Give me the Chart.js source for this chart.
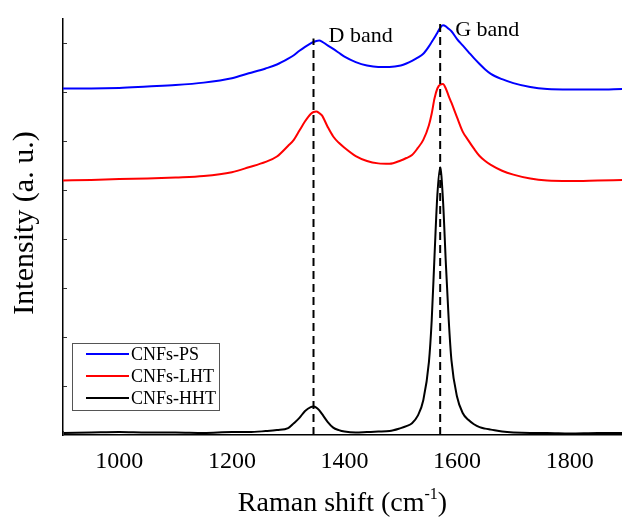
<!DOCTYPE html>
<html lang="en">
<head>
    <meta charset="UTF-8">
    <title>Raman spectra</title>
    <script src="https://cdn.jsdelivr.net/npm/chart.js"></script>
    <style>
        body { margin: 0; background: #fff; }
        .chart-box { position: relative; width: 622px; height: 517px; }
    </style>
</head>
<body>
    <div class="chart-box">
        <canvas id="ramanChart"></canvas>
    </div>

    <script>
        // Raman shift (cm-1) sampling points
        const shift = [900, 950, 1000, 1050, 1100, 1150, 1200, 1230, 1260, 1280,
            1300, 1310, 1320, 1330, 1340, 1345, 1350, 1355, 1360, 1370,
            1380, 1390, 1400, 1420, 1440, 1460, 1480, 1500, 1510, 1520,
            1530, 1540, 1550, 1555, 1560, 1565, 1570, 1575, 1580, 1585,
            1590, 1600, 1610, 1620, 1630, 1640, 1650, 1660, 1680, 1700,
            1730, 1760, 1800, 1850, 1893];

        // Intensities (a. u., stacked with offsets as in the figure)
        const cnfsPS = [7.08, 7.08, 7.09, 7.12, 7.15, 7.20, 7.29, 7.39, 7.49, 7.57,
            7.69, 7.76, 7.85, 7.93, 8.00, 8.03, 8.05, 8.06, 8.04, 7.96,
            7.89, 7.81, 7.73, 7.62, 7.55, 7.52, 7.52, 7.55, 7.59, 7.645,
            7.71, 7.79, 7.94, 8.03, 8.12, 8.22, 8.32, 8.37, 8.35, 8.30,
            8.25, 8.09, 7.96, 7.83, 7.70, 7.58, 7.47, 7.38, 7.27, 7.19,
            7.11, 7.07, 7.06, 7.06, 7.07];

        const cnfsLHT = [5.20, 5.21, 5.23, 5.24, 5.26, 5.29, 5.37, 5.47, 5.58, 5.69,
            5.91, 6.03, 6.22, 6.41, 6.56, 6.60, 6.61, 6.58, 6.53, 6.30,
            6.10, 5.97, 5.87, 5.70, 5.60, 5.55, 5.54, 5.61, 5.66, 5.72,
            5.86, 6.03, 6.33, 6.57, 6.88, 7.08, 7.16, 7.17, 7.08, 6.93,
            6.79, 6.49, 6.20, 6.02, 5.85, 5.70, 5.60, 5.52, 5.40, 5.32,
            5.24, 5.20, 5.19, 5.20, 5.21];

        const cnfsHHT = [0.04, 0.05, 0.06, 0.05, 0.05, 0.04, 0.06, 0.06, 0.08, 0.10,
            0.14, 0.24, 0.35, 0.49, 0.57, 0.58, 0.56, 0.51, 0.43, 0.27,
            0.15, 0.10, 0.07, 0.05, 0.06, 0.07, 0.08, 0.14, 0.18, 0.24,
            0.39, 0.71, 1.49, 2.35, 3.67, 4.90, 5.47, 4.80, 3.53, 2.39,
            1.53, 0.78, 0.45, 0.31, 0.22, 0.16, 0.13, 0.11, 0.07, 0.05,
            0.04, 0.04, 0.03, 0.04, 0.04];

        // x tick labels shown on the axis
        const xTickLabels = [1000, 1200, 1400, 1600, 1800];

        // D and G band markers
        const bandNames = ['D band', 'G band'];
        const bandShift = [1345, 1570];
        const bandTop = [8.10, 8.43];
        const bandTextY = [8.04, 8.16];

        const serif = "'Liberation Serif', 'Times New Roman', serif";

        const toPoints = (ys) => shift.map((x, i) => ({ x: x, y: ys[i] }));

        const series = [
            { label: 'CNFs-PS', data: cnfsPS, color: '#0000ff' },
            { label: 'CNFs-LHT', data: cnfsLHT, color: '#ff0000' },
            { label: 'CNFs-HHT', data: cnfsHHT, color: '#000000' }
        ];

        const datasets = series.map((s, i) => ({
            label: s.label,
            data: toPoints(s.data),
            borderColor: s.color,
            backgroundColor: s.color,
            borderWidth: 2,
            pointRadius: 0,
            cubicInterpolationMode: 'monotone',
            order: 5 + i
        }));

        bandShift.forEach((b, i) => {
            datasets.push({
                label: bandNames[i],
                data: [{ x: b, y: 0 }, { x: b, y: bandTop[i] }],
                borderColor: '#000',
                borderWidth: 2,
                borderDash: [8, 5],
                pointRadius: 0,
                order: 1
            });
        });

        // inward tick marks, tick labels, band labels, legend box, axis titles
        const decorations = {
            id: 'decorations',
            afterDraw(chart) {
                const ctx = chart.ctx;
                const xs = chart.scales.x, ys = chart.scales.y;
                const area = chart.chartArea;
                ctx.save();

                // tick marks pointing inside
                ctx.strokeStyle = '#333';
                ctx.lineWidth = 1;
                xs.ticks.forEach(t => {
                    if (t.value % 100 !== 0) return;
                    const px = Math.round(xs.getPixelForValue(t.value)) + 0.5;
                    ctx.beginPath();
                    ctx.moveTo(px, area.bottom);
                    ctx.lineTo(px, area.bottom - 4);
                    ctx.stroke();
                });
                ys.ticks.forEach(t => {
                    if (!Number.isInteger(t.value) || t.value === 0) return;
                    const py = Math.round(ys.getPixelForValue(t.value)) + 0.5;
                    ctx.beginPath();
                    ctx.moveTo(area.left, py);
                    ctx.lineTo(area.left + 4, py);
                    ctx.stroke();
                });

                // x tick labels
                ctx.fillStyle = '#000';
                ctx.font = '24px ' + serif;
                ctx.textAlign = 'center';
                ctx.textBaseline = 'alphabetic';
                xTickLabels.forEach(v => {
                    ctx.fillText(String(v), xs.getPixelForValue(v), area.bottom + 33);
                });

                // band labels
                ctx.font = '22px ' + serif;
                ctx.textAlign = 'left';
                bandNames.forEach((name, i) => {
                    ctx.fillText(name, xs.getPixelForValue(bandShift[i]) + 15, ys.getPixelForValue(bandTextY[i]));
                });

                // legend
                const lx = 72, ly = 343, lw = 147, lh = 67;
                ctx.strokeStyle = '#555';
                ctx.lineWidth = 1;
                ctx.strokeRect(lx + 0.5, ly + 0.5, lw, lh);
                ctx.font = '18px ' + serif;
                ctx.textBaseline = 'middle';
                series.forEach((s, i) => {
                    const ry = ly + 11 + i * 22;
                    ctx.strokeStyle = s.color;
                    ctx.lineWidth = 2;
                    ctx.beginPath();
                    ctx.moveTo(86, ry);
                    ctx.lineTo(129, ry);
                    ctx.stroke();
                    ctx.fillStyle = '#000';
                    ctx.fillText(s.label, 131, ry + 1);
                });

                // x axis title with superscript
                ctx.textBaseline = 'alphabetic';
                const main = 'Raman shift (cm';
                const sup = '-1';
                const close = ')';
                ctx.font = '28px ' + serif;
                const w1 = ctx.measureText(main).width;
                const w3 = ctx.measureText(close).width;
                ctx.font = '16px ' + serif;
                const w2 = ctx.measureText(sup).width;
                const tx = (area.left + area.right) / 2 - (w1 + w2 + w3) / 2;
                const baseY = 511;
                ctx.font = '28px ' + serif;
                ctx.fillText(main, tx, baseY);
                ctx.font = '16px ' + serif;
                ctx.fillText(sup, tx + w1, baseY - 12);
                ctx.font = '28px ' + serif;
                ctx.fillText(close, tx + w1 + w2, baseY);

                // y axis title
                ctx.save();
                ctx.translate(33, (area.top + area.bottom) / 2 - 4);
                ctx.rotate(-Math.PI / 2);
                ctx.textAlign = 'center';
                ctx.font = '30px ' + serif;
                ctx.fillText('Intensity (a. u.)', 0, 0);
                ctx.restore();

                ctx.restore();
            }
        };

        new Chart(document.getElementById('ramanChart'), {
            type: 'line',
            data: { datasets: datasets },
            options: {
                responsive: true,
                maintainAspectRatio: false,
                animation: false,
                layout: { padding: { top: 19, right: 0, left: 0, bottom: 0 } },
                plugins: {
                    legend: { display: false },
                    tooltip: { enabled: false }
                },
                scales: {
                    x: {
                        type: 'linear',
                        min: 900,
                        max: 1893,
                        grid: { display: false },
                        border: { display: true, color: '#000', width: 1.5 },
                        ticks: { display: false, stepSize: 100 },
                        afterFit: s => { s.height = 82; }
                    },
                    y: {
                        min: 0,
                        max: 8.5,
                        grid: { display: false },
                        border: { display: true, color: '#000', width: 1.5 },
                        ticks: { display: false, stepSize: 1 },
                        afterFit: s => { s.width = 63; }
                    }
                }
            },
            plugins: [decorations]
        });
    </script>
</body>
</html>
